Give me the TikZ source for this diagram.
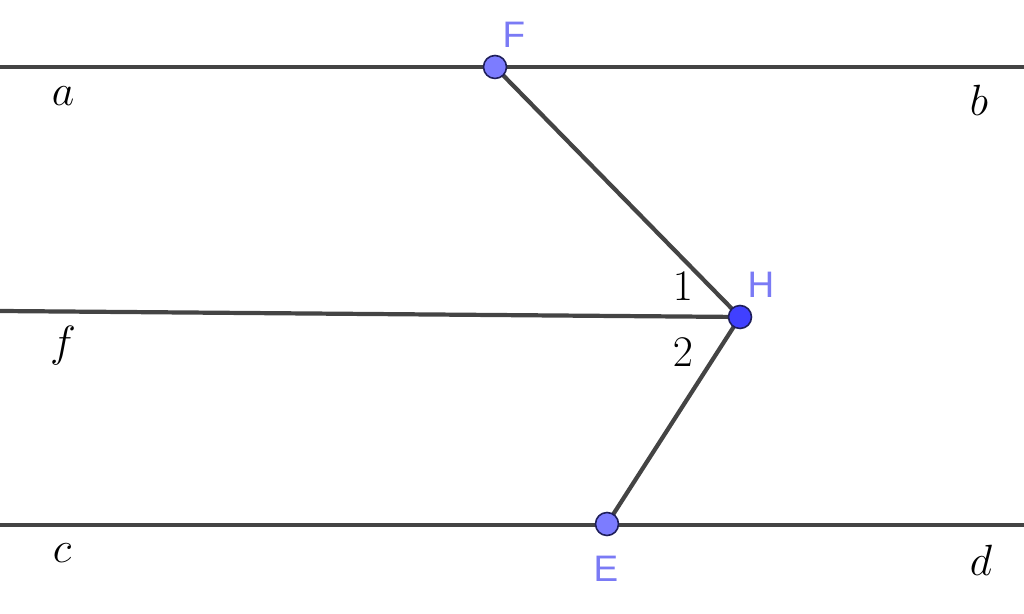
\documentclass[tikz,border=0pt]{standalone}
\usepackage{fontspec}
\newfontfamily\ptfont{Liberation Sans}
\usepackage{tikz}
\definecolor{linegray}{HTML}{444444}
\definecolor{ptblue}{HTML}{7C7CFF}
\definecolor{ptdark}{HTML}{4040FF}
\definecolor{ptedge}{HTML}{1E1E5A}
\definecolor{lblblue}{HTML}{7A7AF5}
\tikzstyle{seg} = [color=linegray, line width=2.4pt]
\tikzstyle{pt} = [circle, draw=ptedge, line width=0.9pt, fill=ptblue, minimum size=0.46cm, inner sep=0pt]
\tikzstyle{ptlabel} = [text=lblblue, font=\ptfont\fontsize{21}{24}\selectfont]
\tikzstyle{linelabel} = [font=\fontsize{24}{28}\selectfont]

\begin{document}
\begin{tikzpicture}[x=0.02cm, y=-0.02cm]
            \useasboundingbox (0,0) rectangle (1024,614);
            \coordinate (aleft) at (0,67);
            \coordinate (bright) at (1024,67);
            \coordinate (fleft) at (0,311);
            \coordinate (cleft) at (0,525);
            \coordinate (dright) at (1024,525);
            % lines
            \draw [seg] (aleft) -- (bright);
            \draw [seg] (cleft) -- (dright);
            \draw [seg] (fleft) -- (740,317) coordinate (hpos);
            \draw [seg] (495,67) coordinate (fpos) -- (hpos);
            \draw [seg] (607,524) coordinate (epos) -- (hpos);
            % points
            \node [pt] at (fpos) (F) {};
            \node [pt, fill=ptdark] at (hpos) (H) {};
            \node [pt] at (epos) (E) {};
            \node [ptlabel] at (514,35) (Flbl) {F};
            \node [ptlabel] at (761,285) (Hlbl) {H};
            \node [ptlabel] at (606,569) (Elbl) {E};
            % labels
            \node [linelabel] at (63,96) (albl) {$a$};
            \node [linelabel] at (979,100) (blbl) {$b$};
            \node [linelabel] at (63,346) (flbl) {$f$};
            \node [linelabel] at (62,553) (clbl) {$c$};
            \node [linelabel] at (981,560) (dlbl) {$d$};
            \node [linelabel] at (683,286) (one) {$1$};
            \node [linelabel] at (683,352) (two) {$2$};
            \end{tikzpicture}
\end{document}
